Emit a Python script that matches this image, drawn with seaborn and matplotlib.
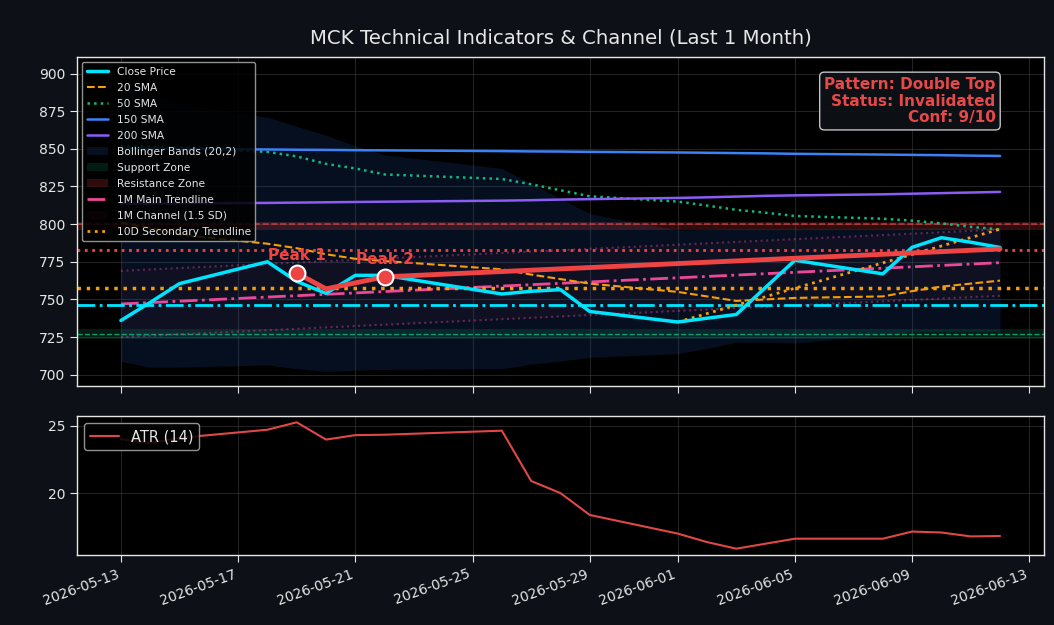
import matplotlib
matplotlib.use("Agg")
import numpy as np
import pandas as pd
import matplotlib.pyplot as plt
import matplotlib.dates as mdates
from matplotlib.ticker import MultipleLocator
import seaborn as sns

# ---- data ----
DATES = ["2026-05-13", "2026-05-14", "2026-05-15", "2026-05-18", "2026-05-19",
         "2026-05-20", "2026-05-21", "2026-05-22", "2026-05-26", "2026-05-27",
         "2026-05-28", "2026-05-29", "2026-06-01", "2026-06-02", "2026-06-03",
         "2026-06-04", "2026-06-05", "2026-06-08", "2026-06-09", "2026-06-10",
         "2026-06-11", "2026-06-12"]
CLOSE  = [736, 748, 760.5, 775, 762, 754, 766, 766, 753.6, 755.4, 756.5,
          742, 735, 737.5, 740, 758, 776, 767, 784.6, 791, 788, 784.5]
SMA20  = [801, 797.5, 793, 787, 784, 780, 777, 775.5, 770, 766.5, 763.5,
          760.5, 755, 752, 749, 750, 751, 752, 755.5, 758.5, 760.5, 762.5]
SMA50  = [852, 851.5, 851, 848, 845, 840, 837, 833, 830, 826.5, 822.5,
          818.5, 815, 812.3, 809.5, 807.6, 805.4, 803.6, 802.3, 800.5, 798.2, 796.5]
SMA150 = [850.3, 850.2, 850.0, 849.6, 849.4, 849.3, 849.1, 849.0, 848.5, 848.3, 848.2,
          848.0, 847.6, 847.4, 847.2, 847.0, 846.7, 846.2, 846.0, 845.8, 845.5, 845.3]
SMA200 = [813.6, 813.7, 813.8, 814.1, 814.3, 814.5, 814.7, 814.9, 815.6, 815.9, 816.3,
          816.6, 817.4, 817.8, 818.3, 818.8, 819.1, 819.8, 820.2, 820.6, 821.0, 821.4]
BB_UP  = [893, 887, 880, 871, 865, 859, 852, 846, 837, 827, 817,
          807, 796, 796.5, 797, 797, 797, 797, 797.5, 797.5, 797.5, 797.5]
BB_LO  = [709, 705, 705, 706.5, 704, 702.2, 703, 703.5, 704, 707, 709,
          711.5, 714, 717.5, 721.5, 721.5, 721, 726.5, 728.5, 728.7, 728.7, 728.7]
ATR    = [24.0, 23.7, 24.1, 24.7, 25.25, 23.97, 24.3, 24.33, 24.63, 20.9, 20.0,
          18.38, 17.0, 16.37, 15.88, 16.25, 16.62, 16.62, 17.15, 17.08, 16.79, 16.82]

TREND_VALS   = [747, 774.4]          # 1M main trendline, first -> last day
CHANNEL_SD   = 22                    # 1.5 SD half-width
SEC_DATES    = ["2026-06-01", "2026-06-12"]
SEC_VALS     = [735, 796.7]
PATTERN_DATES = ["2026-05-19", "2026-05-20", "2026-05-22", "2026-06-12"]
PATTERN_VALS  = [767.5, 757, 765, 783.5]
PEAK_DATES   = ["2026-05-19", "2026-05-22"]
PEAK_VALS    = [767.5, 765]
PEAK_LABELS  = ["Peak 1", "Peak 2"]

SUPPORT, SUPPORT_ZONE = 727, (724, 730.5)
RESIST, RESIST_ZONE   = 800, (796, 801.5)
INVALIDATION = 783
NECKLINE     = 757.5
TARGET       = 746.5

BG = "#0d1117"
TXT = "#e6e6e6"
RED = "#ef4444"
CYAN = "#00e5ff"
ORANGE = "#f59e0b"
GREEN = "#10b981"
PINK = "#ec4899"

sns.set_style("dark", {"axes.facecolor": "black", "figure.facecolor": BG,
                       "axes.edgecolor": TXT, "grid.color": "#3a3a3a",
                       "xtick.color": TXT, "ytick.color": TXT,
                       "axes.labelcolor": TXT, "text.color": TXT,
                       "xtick.bottom": True, "ytick.left": True})
plt.rcParams["font.family"] = ["DejaVu Sans"]

d = pd.to_datetime(DATES)
df = pd.DataFrame({"date": d, "close": CLOSE, "sma20": SMA20, "sma50": SMA50,
                   "sma150": SMA150, "sma200": SMA200, "atr": ATR})

fig = plt.figure(figsize=(10.54, 6.25), dpi=100, facecolor=BG)
ax = fig.add_axes([0.073, 0.3824, 0.9175, 0.5264])
ax2 = fig.add_axes([0.073, 0.112, 0.9175, 0.2224], sharex=ax)

# zones and bands
ax.fill_between(d, BB_LO, BB_UP, color="#1f4e9c", alpha=0.2, lw=0,
                label="Bollinger Bands (20,2)")
ax.axhspan(*SUPPORT_ZONE, color=GREEN, alpha=0.15, lw=0, label="Support Zone")
ax.axhline(SUPPORT, color=GREEN, ls="--", lw=1, alpha=0.8)
ax.axhspan(*RESIST_ZONE, color=RED, alpha=0.2, lw=0, label="Resistance Zone")
ax.axhline(RESIST, color=RED, ls="--", lw=1.2, alpha=0.7)

# channel
tr_d = pd.to_datetime([DATES[0], DATES[-1]])
tr_v = np.array(TREND_VALS)
ax.fill_between(tr_d, tr_v - CHANNEL_SD, tr_v + CHANNEL_SD, color=PINK,
                alpha=0.04, lw=0, label="1M Channel (1.5 SD)")
sns.lineplot(x=tr_d, y=tr_v + CHANNEL_SD, ax=ax, color=PINK, ls=":", lw=1.5, alpha=0.4)
sns.lineplot(x=tr_d, y=tr_v - CHANNEL_SD, ax=ax, color=PINK, ls=":", lw=1.5, alpha=0.4)
sns.lineplot(x=tr_d, y=tr_v, ax=ax, color=PINK, ls="-.", lw=2,
             label="1M Main Trendline")

# moving averages
sns.lineplot(data=df, x="date", y="sma20", ax=ax, color=ORANGE, ls="--", lw=1.5, label="20 SMA")
sns.lineplot(data=df, x="date", y="sma50", ax=ax, color=GREEN, ls=":", lw=1.8, label="50 SMA")
sns.lineplot(data=df, x="date", y="sma150", ax=ax, color="#3b82f6", lw=1.8, label="150 SMA")
sns.lineplot(data=df, x="date", y="sma200", ax=ax, color="#8b5cf6", lw=1.8, label="200 SMA")

# pattern levels
ax.axhline(INVALIDATION, color=RED, ls=":", lw=2)
ax.axhline(NECKLINE, color=ORANGE, ls=":", lw=2.5)
ax.axhline(TARGET, color=CYAN, ls="-.", lw=2)

sns.lineplot(x=pd.to_datetime(SEC_DATES), y=SEC_VALS, ax=ax, color=ORANGE, ls=":", lw=2,
             label="10D Secondary Trendline")
sns.lineplot(data=df, x="date", y="close", ax=ax, color=CYAN, lw=2.5, label="Close Price",
             zorder=4)
sns.lineplot(x=pd.to_datetime(PATTERN_DATES), y=PATTERN_VALS, ax=ax, color=RED, lw=3.5,
             zorder=5)
sns.scatterplot(x=pd.to_datetime(PEAK_DATES), y=PEAK_VALS, ax=ax, color=RED, s=130,
                edgecolor="white", linewidth=1.5, zorder=6)
for pd_, pv, pl in zip(pd.to_datetime(PEAK_DATES), PEAK_VALS, PEAK_LABELS):
    ax.annotate(pl, (pd_, pv), xytext=(0, 7), textcoords="offset points",
                ha="center", va="bottom", color=RED, fontsize=11, fontweight="bold")

ax.text(0.95, 0.94, "Pattern: Double Top\nStatus: Invalidated\nConf: 9/10",
        transform=ax.transAxes, ha="right", va="top", color="#e84848", fontsize=11,
        fontweight="bold", linespacing=1.15,
        bbox=dict(boxstyle="round,pad=0.3", facecolor=BG, edgecolor="#cccccc", alpha=0.95))

order = ["Close Price", "20 SMA", "50 SMA", "150 SMA", "200 SMA", "Bollinger Bands (20,2)",
         "Support Zone", "Resistance Zone", "1M Main Trendline", "1M Channel (1.5 SD)",
         "10D Secondary Trendline"]
h, l = ax.get_legend_handles_labels()
hm = dict(zip(l, h))
ax.legend([hm[k] for k in order], order, loc="upper left", fontsize=7.7, labelspacing=0.56,
          facecolor="black", edgecolor="#aaaaaa", labelcolor=TXT, framealpha=0.85)

ax.set_title("MCK Technical Indicators & Channel (Last 1 Month)", color=TXT,
             fontsize=14.2, pad=10)
ax.set_ylim(692.5, 911)
ax.yaxis.set_major_locator(MultipleLocator(25))
ax.set_xlabel(""); ax.set_ylabel("")
ax.grid(True, color="#3a3a3a", lw=0.8, alpha=0.6)
plt.setp(ax.get_xticklabels(), visible=False)

# ATR panel
sns.lineplot(data=df, x="date", y="atr", ax=ax2, color="#e04848", lw=1.5, label="ATR (14)")
ax2.legend(loc="upper left", fontsize=10.5, facecolor="black", edgecolor="#aaaaaa",
           labelcolor=TXT, framealpha=0.85)
ax2.yaxis.set_major_locator(MultipleLocator(5))
ax2.set_xlabel(""); ax2.set_ylabel("")
ax2.grid(True, color="#3a3a3a", lw=0.8, alpha=0.6)
ax2.xaxis.set_major_locator(mdates.DayLocator(bymonthday=[1, 5, 9, 13, 17, 21, 25, 29]))
ax2.xaxis.set_major_formatter(mdates.DateFormatter("%Y-%m-%d"))
for t in ax2.get_xticklabels():
    t.set_rotation(20)
    t.set_ha("right")

for a in (ax, ax2):
    for s in a.spines.values():
        s.set_color(TXT)
        s.set_linewidth(1)
    a.tick_params(colors=TXT, labelsize=10, length=5)

fig.savefig("out.png", dpi=100, facecolor=BG)
